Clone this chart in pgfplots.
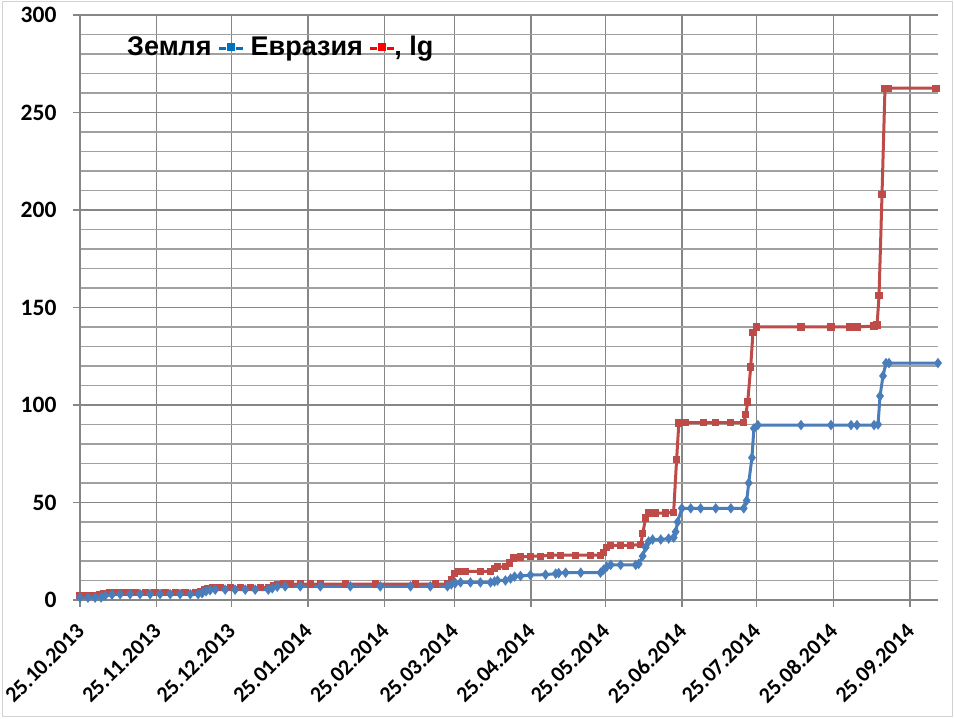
\documentclass[border=0pt]{standalone}
\usepackage{pgfplots}
\pgfplotsset{compat=1.18}
\usepackage{fontspec}
\setmainfont{Carlito}
\newfontfamily\arial{Liberation Sans}
\definecolor{lblue}{HTML}{4A7EBB}
\definecolor{lred}{HTML}{BE4B48}
\definecolor{mblue}{HTML}{0070C0}
\definecolor{mred}{HTML}{FF0000}
\definecolor{vgrid}{HTML}{868686}
\definecolor{hgrid}{HTML}{A0A0A0}
\newcommand\legmark[1]{{\color{#1}\raisebox{6pt}{\rule{7pt}{3pt}}\hspace{1pt}\raisebox{5pt}{\rule{8pt}{8pt}}\hspace{1pt}\raisebox{6pt}{\rule{7pt}{3pt}}}}
\begin{document}
\begin{tikzpicture}
\useasboundingbox (0,0) rectangle (954pt,719pt);
\draw[gray!35, line width=1pt] (2pt,2pt) rectangle (952pt,717pt);
\begin{axis}[
  at={(80pt,119pt)}, anchor=south west,
  scale only axis, width=858pt, height=585pt,
  xmin=0, xmax=346.3, ymin=0, ymax=300,
  axis x line*=bottom, axis y line*=left,
  axis line style={vgrid, line width=1.2pt},
  xtick={0,31,61,92,123,151,182,212,243,273,304,335},
  xticklabels={25.10.2013,25.11.2013,25.12.2013,25.01.2014,25.02.2014,25.03.2014,25.04.2014,25.05.2014,25.06.2014,25.07.2014,25.08.2014,25.09.2014},
  ytick={0,50,...,300},
  minor ytick={10,20,...,290},
  xmajorgrids, ymajorgrids, yminorgrids,
  major grid style={vgrid, line width=1.2pt},
  minor grid style={hgrid, line width=1.2pt},
  tick align=outside, major tick length=7pt, minor tick length=0pt,
  tick style={vgrid, line width=1.2pt},
  /pgf/number format/assume math mode=true,
  yticklabel style={font=\fontsize{23.5}{23.5}\selectfont\bfseries, xshift=-13pt},
  xticklabel style={font=\fontsize{22}{22}\selectfont\bfseries, rotate=45, anchor=east, xshift=-10.7pt, yshift=-14.7pt},
  clip=false,
]
\addplot[lred, line width=3pt, line join=round, mark=square*, mark size=2.1pt, mark options={solid, line join=miter}] coordinates {
(0,2.5)(2.0,2.5)(4.0,2.5)(6.1,2.5)(8.1,2.8)(9.7,3.5)(12.1,3.8)(14.1,4)(16.2,4)(19.0,4)(22.2,4)(26.3,4)(30.3,4)(34.3,4)(38.4,4)(42.4,4)(46.5,4)
(48.5,4.5)(50.1,5.5)(51.7,6)(53.7,6.3)(56.6,6.3)(60.6,6.3)(64.7,6.3)(68.7,6.3)(72.7,6.3)(76.0,6.3)(78.0,7.5)(79.6,8)(82.0,8.2)(84.9,8.2)
(88.9,8.2)(92.9,8.2)(97.0,8.2)(107.1,8.2)(119.2,8.2)(135.4,8.2)(143.5,8.2)(148.3,8.2)(149.9,10.5)(151.1,13.5)(152.8,14.5)(155.6,14.7)
(161.6,14.7)(165.7,14.7)(167.3,16)(168.5,17)(171.7,17)(173.4,19)(175.0,21.5)(177.8,22)(181.8,22.5)(185.9,22.5)(189.9,23)(194.0,23)
(200.0,23)(206.1,23)(210.1,23)(211.3,24.5)(212.6,27)(214.2,28)(218.2,28)(222.3,28)(226.3,28.5)(227.1,34)(228.3,42)(229.5,44.6)
(232.4,44.6)(236.4,44.6)(239.6,45)(240.8,72)(241.7,90.8)(244.5,91)(251.8,91)(256.6,91)(262.7,91)(267.9,91)(268.7,95)(269.5,101.5)
(270.7,119.5)(271.6,137)(273.2,140)(291.0,140)(303.1,140)(310.8,140)(313.6,140)(320.5,140.5)(321.7,141)(322.5,156)(323.7,208)
(324.9,262.5)(326.1,262.5)(345.5,262.5)
};
\addplot[lblue, line width=3pt, line join=round, mark=diamond*, mark size=2.8pt, mark options={solid, line join=miter}] coordinates {
(0,1.2)(3.2,1.2)(6.1,1.2)(8.5,1.3)(10.1,2.2)(12.9,2.7)(16.2,3)(20.2,3)(24.2,3)(28.3,3)(32.3,3)(36.4,3)(40.4,3)(44.5,3)(47.7,3)
(49.3,3.5)(50.9,4.5)(52.5,5)(54.6,5.3)(58.6,5.3)(62.6,5.3)(66.7,5.3)(70.7,5.3)(76.0,5.3)(77.6,6)(79.6,6.8)(82.8,7)(88.9,7)(97.0,7)
(109.1,7)(121.2,7)(133.4,7)(141.4,7)(148.3,7)(149.9,8)(151.5,8.7)(153.6,9)(157.6,9)(161.6,9)(165.7,9)(167.3,9.5)(168.5,10)(171.7,10)
(173.8,11)(175.4,12)(177.8,12.3)(181.8,12.8)(187.9,13)(192.0,13.5)(193.2,13.8)(196.0,14)(202.1,14)(210.1,14)(211.3,15.5)(212.6,17)
(214.2,18)(218.2,18)(224.3,18)(225.5,18.5)(227.1,22.5)(228.3,27)(229.5,30)(231.1,31)(234.4,31)(237.6,31.5)(239.6,32)(240.4,35)
(241.2,40)(242.9,47)(246.5,47)(250.5,47)(256.6,47)(262.7,47)(267.9,47)(269.1,51)(269.9,60)(271.2,73)(272.0,88)(273.6,89.7)
(291.0,89.7)(303.1,89.7)(311.2,89.7)(313.6,89.7)(320.5,89.7)(322.1,90)(322.9,104.6)(324.1,114.9)(325.3,121.5)(326.5,121.5)(346.3,121.5)
};
\end{axis}
\node[anchor=base west, inner sep=0pt, font=\arial\bfseries\fontsize{27}{27}\selectfont] at (127pt,663pt)
  {Земля \legmark{mblue} Евразия \legmark{mred}, lg};
\end{tikzpicture}
\end{document}
